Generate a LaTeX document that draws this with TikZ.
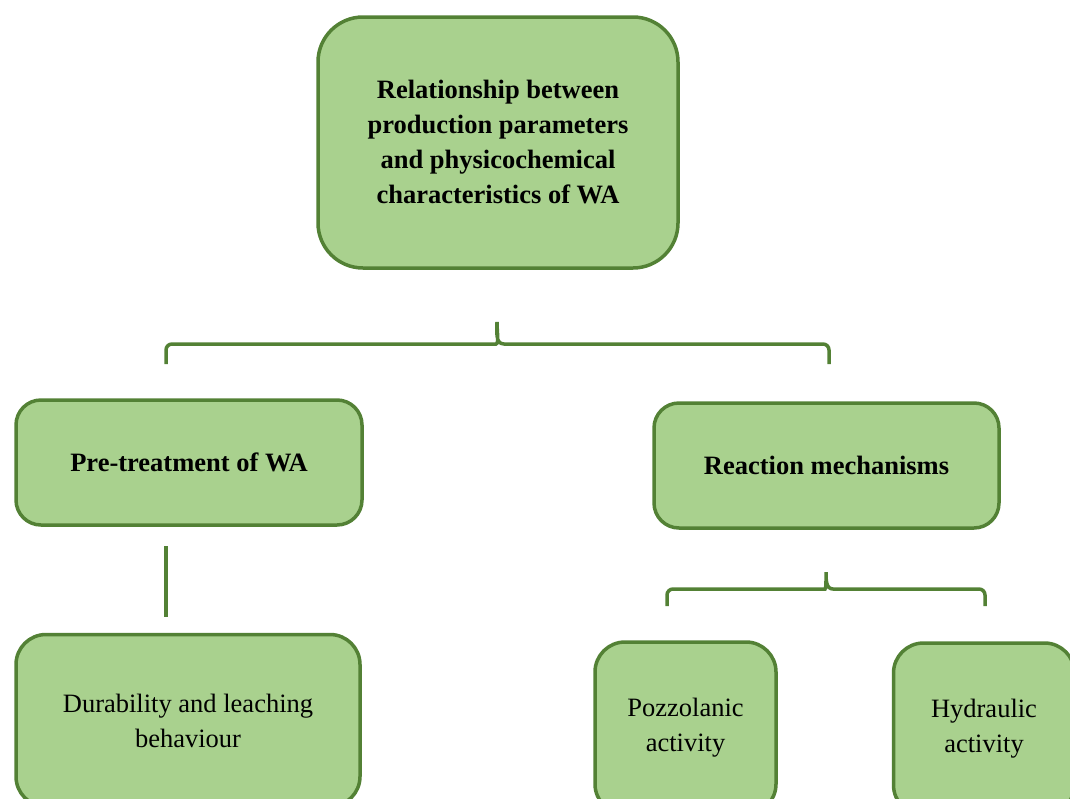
\documentclass[tikz,border=0pt]{standalone}
\usepackage{fontspec}
\setmainfont{Liberation Serif}
\usetikzlibrary{positioning}

\definecolor{wagreen}{HTML}{538135}
\definecolor{walight}{HTML}{A9D18E}

\tikzset{
  wabox/.style={draw=wagreen, fill=walight, line width=3.5pt, rounded corners=#1,
    align=center, inner sep=0pt, font=\fontsize{26.5}{35}\selectfont},
  wabox/.default=25pt,
  wabrace/.style={draw=wagreen, line width=3.5pt, rounded corners=6pt},
}

\begin{document}
\begin{tikzpicture}[x=1pt,y=-1pt]
  \useasboundingbox (0,0) rectangle (1070,798);
  % boxes
  \node[wabox=45pt, minimum width=360pt, minimum height=251pt] (top) at (498,142.5)
    {\bfseries Relationship between\\\bfseries production parameters\\\bfseries and physicochemical\\\bfseries characteristics of WA};
  \node[wabox, minimum width=346pt, minimum height=125pt] (pre) at (189,462.5)
    {\bfseries Pre-treatment of WA};
  \node[wabox, minimum width=345pt, minimum height=125pt] (react) at (826.5,465.5)
    {\bfseries Reaction mechanisms};
  \node[wabox=30pt, minimum width=344pt, minimum height=172pt] (dura) at (188,720.5)
    {Durability and leaching\\behaviour};
  \node[wabox=30pt, minimum width=181pt, minimum height=172pt] (pozz) at (685.5,728)
    {Pozzolanic\\activity};
  \node[wabox=30pt, minimum width=181pt, minimum height=172pt] (hydr) at (984,729)
    {Hydraulic\\activity};
  % braces
  \coordinate (b1tip) at (497,322);
  \coordinate (b1l) at (166,364);
  \coordinate (b1r) at (829,364);
  \draw[wabrace] (b1l) -- (166,344) -- (490,344) [rounded corners=0pt]
    to[out=0,in=-90] (b1tip) to[out=-90,in=180] (504,344) [rounded corners=6pt]
    -- (829,344) -- (b1r);
  \coordinate (b2tip) at (826,572);
  \coordinate (b2l) at (667,606);
  \coordinate (b2r) at (985,606);
  \draw[wabrace] (b2l) -- (667,589) -- (819,589) [rounded corners=0pt]
    to[out=0,in=-90] (b2tip) to[out=-90,in=180] (833,589) [rounded corners=6pt]
    -- (985,589) -- (b2r);
  % link
  \coordinate (l1) at (166,546);
  \coordinate (l2) at (166,617);
  \draw[wagreen, line width=3.5pt] (l1) -- (l2);
\end{tikzpicture}
\end{document}
